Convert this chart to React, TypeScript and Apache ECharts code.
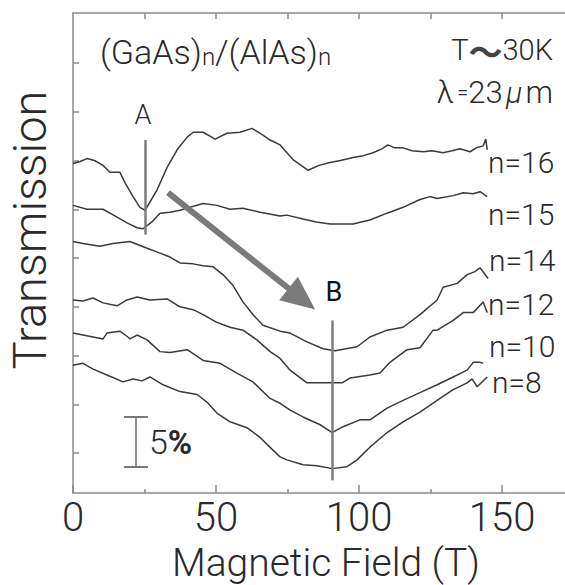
import React, { useEffect, useRef } from 'react';
import * as echarts from 'echarts';

const xTickValues = [0, 50, 100, 150];
const xMinorTickValues = [25, 75, 125];
const xTopTickValues = [25, 50, 75, 100, 125, 150];
const yTickValues = [4.1, 9.1, 14.1, 19.1, 24.1, 29.1, 34.1, 39.1, 44.1];
const seriesNames = ['n=16', 'n=15', 'n=14', 'n=12', 'n=10', 'n=8'];

const n16 = [[0,33.8],[2.5,34.0],[4.9,34.3],[7.5,34.1],[10.5,33.6],[12.9,32.9],[16.4,32.9],[18.2,31.8],[21.0,30.4],[23.4,29.3],[25.2,29.0],[29.4,31.1],[32.9,33.4],[36.4,35.2],[39.9,36.5],[42.0,37.0],[45.5,37.0],[49.7,36.3],[53.8,36.9],[58.4,37.0],[62.6,37.4],[66.4,36.7],[68.9,36.2],[72.4,35.7],[76.9,34.2],[82.2,33.1],[86.0,33.6],[89.9,33.9],[93.5,34.1],[97.9,34.4],[101.5,34.6],[104.9,34.9],[108.0,35.3],[110.1,35.7],[112.5,35.4],[115.4,35.4],[118.5,35.1],[122.4,35.0],[125.5,35.1],[129.4,34.9],[132.5,35.1],[135.3,35.3],[138.8,35.0],[141.0,35.4],[143.4,35.6],[144.3,36.3],[144.8,35.2]];
const n15 = [[0,29.5],[4.9,29.1],[10.5,29.1],[15.4,28.3],[18.9,27.7],[22.4,27.2],[24.5,27.1],[27.6,27.8],[30.4,28.7],[33.9,28.8],[37.4,29.0],[40.9,29.3],[45.5,29.7],[50.3,29.5],[54.9,29.1],[59.4,29.2],[65.4,28.8],[72.4,28.4],[74.8,28.5],[80.4,28.1],[85.0,27.8],[89.9,27.6],[97.9,27.6],[103.8,28.0],[109.8,28.7],[115.4,29.3],[121.3,30.1],[124.8,30.4],[127.3,30.2],[132.9,30.5],[136.4,30.8],[139.9,30.7],[142.3,30.9],[144.8,30.4]];
const n14 = [[0,25.8],[3.5,25.6],[9.4,25.3],[14.0,25.6],[19.9,25.8],[25.9,25.1],[30.4,24.6],[33.9,24.2],[37.4,23.6],[42.0,23.5],[45.5,23.3],[49.0,23.2],[52.4,22.4],[55.9,21.3],[59.4,19.6],[62.9,18.3],[66.4,17.2],[72.4,16.6],[75.9,16.4],[81.8,15.5],[87.4,14.8],[91.6,14.6],[99.3,15.0],[103.8,16.0],[109.8,16.7],[115.4,17.0],[121.3,18.3],[127.3,19.8],[129.4,21.1],[134.3,21.5],[137.8,22.4],[140.5,22.7],[142.3,23.1],[145.1,22.0]];
const n12 = [[0,19.8],[3.5,19.7],[7.0,20.0],[10.5,19.5],[15.4,19.2],[18.9,19.8],[22.4,20.1],[26.9,19.8],[32.9,19.9],[37.4,19.1],[42.0,18.8],[45.5,18.3],[50.3,17.5],[54.9,17.0],[59.4,16.7],[64.3,15.7],[68.9,14.5],[72.4,13.8],[75.9,12.6],[81.8,11.3],[89.9,11.3],[94.1,11.3],[96.9,11.8],[103.8,12.1],[107.3,12.3],[110.8,13.4],[116.8,14.7],[121.3,14.9],[125.9,16.7],[127.3,16.7],[132.9,17.7],[136.4,18.5],[139.9,18.5],[143.4,19.6],[144.8,18.5]];
const n10 = [[0,16.4],[3.5,16.2],[7.0,16.0],[10.5,15.8],[11.9,16.4],[16.4,16.6],[19.2,16.0],[19.9,15.8],[22.4,16.2],[25.9,15.7],[30.4,14.5],[33.9,14.4],[39.9,14.7],[45.5,13.6],[51.4,13.3],[57.3,12.3],[62.9,11.4],[68.9,9.7],[72.4,9.2],[75.9,8.5],[80.4,7.8],[86.4,7.0],[90.6,6.2],[94.4,6.8],[100.3,7.5],[103.8,7.5],[109.8,8.7],[115.4,9.5],[121.3,10.3],[127.3,11.1],[132.9,11.9],[137.8,12.6],[139.9,13.4],[142.3,13.4],[143.4,13.3]];
const n8 = [[0,13.1],[3.5,13.3],[7.0,12.7],[11.9,12.1],[17.5,11.4],[21.0,11.7],[24.1,11.5],[26.9,11.9],[31.5,11.1],[37.4,10.4],[43.4,10.1],[46.9,9.3],[50.3,8.2],[54.9,7.3],[60.8,6.7],[65.4,5.7],[69.9,4.4],[72.4,3.7],[74.8,3.4],[80.4,2.9],[85.3,2.8],[90.6,2.5],[95.8,2.7],[99.3,3.4],[103.8,4.7],[109.8,6.2],[115.4,7.3],[121.3,8.3],[127.3,9.5],[132.9,10.6],[137.8,11.3],[139.5,11.7],[141.3,10.9],[144.8,11.9]];

const markerA = [25.2, 36.2, 26.5];
const markerB = [90.6, 17.7, 1.3];
const arrowFrom = [33.2, 30.8];
const arrowTo = [80.0, 19.9];
const scaleBar = [21.9, 2.7, 7.8, 17.8, 26.2];

export default function App() {
  const ref = useRef<HTMLDivElement>(null);
  useEffect(() => {
    const chart = echarts.init(ref.current!, null, { renderer: 'svg' });
    const font = 'Roboto, "Liberation Sans", sans-serif';
    const axisColor = '#8a8a8a';
    const textColor = '#2a2a2a';
    const curves = [n16, n15, n14, n12, n10, n8];
    const series: any[] = curves.map((d, i) => ({
      type: 'line',
      name: seriesNames[i],
      data: d,
      showSymbol: false,
      symbol: 'none',
      silent: true,
      lineStyle: { color: '#3a3a3a', width: 1.5 },
      z: 3,
    }));
    series.push({
      type: 'line',
      data: [],
      symbol: 'none',
      silent: true,
      markLine: {
        silent: true,
        symbol: ['none', 'none'],
        label: { show: false },
        emphasis: { disabled: true },
        lineStyle: { color: '#7d7d7d', width: 2.5, type: 'solid' },
        data: [
          [{ coord: [markerA[0], markerA[1]] }, { coord: [markerA[0], markerA[2]] }],
          [{ coord: [markerB[0], markerB[1]] }, { coord: [markerB[0], markerB[2]] }],
        ],
      },
    });
    series.push({
      type: 'line',
      data: [],
      symbol: 'none',
      silent: true,
      markLine: {
        silent: true,
        symbol: ['none', 'none'],
        label: { show: false },
        emphasis: { disabled: true },
        lineStyle: { color: '#8f8f8f', width: 2, type: 'solid' },
        data: [
          [{ coord: [scaleBar[0], scaleBar[1]] }, { coord: [scaleBar[0], scaleBar[2]] }],
          [{ coord: [scaleBar[3], scaleBar[1]], lineStyle: { color: '#777' } }, { coord: [scaleBar[4], scaleBar[1]] }],
          [{ coord: [scaleBar[3], scaleBar[2]], lineStyle: { color: '#777' } }, { coord: [scaleBar[4], scaleBar[2]] }],
        ],
      },
    });
    series.push({
      type: 'line',
      data: [],
      symbol: 'none',
      silent: true,
      markLine: {
        silent: true,
        symbol: ['none', 'triangle'],
        symbolSize: [30, 34],
        label: { show: false },
        emphasis: { disabled: true },
        lineStyle: { color: '#7a7a7a', width: 6, type: 'solid' },
        itemStyle: { color: '#7a7a7a' },
        data: [[{ coord: arrowFrom }, { coord: arrowTo }]],
      },
    });

    const seriesLabelPos = [
      [488, 162], [488, 214], [489, 260], [488, 304], [489, 346], [492, 382],
    ];

    const graphic: any[] = [
      {
        type: 'text', x: 29, y: 230, rotation: Math.PI / 2,
        style: { text: 'Transmission', fontFamily: font, fontWeight: 300, fontSize: 47, fill: textColor, textAlign: 'center', textVerticalAlign: 'middle' },
      },
      {
        type: 'text', x: 326, y: 563,
        style: { text: 'Magnetic Field (T)', fontFamily: font, fontWeight: 300, fontSize: 39, fill: textColor, textAlign: 'center', textVerticalAlign: 'middle' },
      },
      {
        type: 'text', x: 100, y: 50,
        style: {
          text: '{a|(GaAs)}{s|n}{a|/(AlAs)}{s|n}',
          textAlign: 'left', textVerticalAlign: 'middle',
          rich: {
            a: { fontFamily: font, fontWeight: 300, fontSize: 34, fill: textColor, lineHeight: 38, verticalAlign: 'bottom' },
            s: { fontFamily: font, fontWeight: 300, fontSize: 24, fill: textColor, lineHeight: 28, verticalAlign: 'bottom' },
          },
        },
      },
      {
        type: 'text', x: 553, y: 50,
        style: {
          text: '{a|T}{t|～}{a|30K}',
          textAlign: 'right', textVerticalAlign: 'middle',
          rich: {
            a: { fontFamily: font, fontWeight: 300, fontSize: 29, fill: textColor, lineHeight: 32 },
            t: { fontFamily: '"Noto Sans CJK JP", sans-serif', fontWeight: 'bold', fontSize: 34, fill: '#444', lineHeight: 32 },
          },
        },
      },
      {
        type: 'text', x: 553, y: 92,
        style: {
          text: '{l|λ} {e|=}{a|23} {u|μ} {a|m}',
          textAlign: 'right', textVerticalAlign: 'middle',
          rich: {
            l: { fontFamily: font, fontWeight: 300, fontSize: 31, fill: textColor, lineHeight: 34 },
            e: { fontFamily: font, fontWeight: 300, fontSize: 20, fill: textColor, lineHeight: 34 },
            a: { fontFamily: font, fontWeight: 300, fontSize: 31, fill: textColor, lineHeight: 34 },
            u: { fontFamily: font, fontWeight: 300, fontStyle: 'italic', fontSize: 30, fill: textColor, lineHeight: 34 },
          },
        },
      },
      {
        type: 'text', x: 143, y: 115,
        style: { text: 'A', fontFamily: font, fontWeight: 300, fontSize: 27, fill: textColor, textAlign: 'center', textVerticalAlign: 'middle' },
      },
      {
        type: 'text', x: 334, y: 292,
        style: { text: 'B', fontFamily: font, fontSize: 27, fill: '#111', textAlign: 'center', textVerticalAlign: 'middle' },
      },
      {
        type: 'text', x: 149, y: 442,
        style: {
          text: '{a|5}{b|%}',
          textAlign: 'left', textVerticalAlign: 'middle',
          rich: {
            a: { fontFamily: font, fontWeight: 300, fontSize: 34, fill: textColor, lineHeight: 36 },
            b: { fontFamily: font, fontWeight: 'bold', fontSize: 33, fill: textColor, lineHeight: 36 },
          },
        },
      },
      ...seriesNames.map((name, i) => ({
        type: 'text', x: seriesLabelPos[i][0], y: seriesLabelPos[i][1],
        style: { text: name, fontFamily: font, fontWeight: 300, fontSize: 30, fill: textColor, textAlign: 'left', textVerticalAlign: 'middle' },
      })),
    ];

    const axisLine = { show: true, lineStyle: { color: axisColor, width: 1.5 } };
    const option: any = {
      animation: false,
      grid: { left: 73, top: 13, right: 0, bottom: 92, containLabel: false },
      xAxis: [
        {
          type: 'value', position: 'bottom', min: 0, max: 172,
          axisLine,
          axisTick: { show: true, inside: true, length: 8, customValues: xTickValues, lineStyle: { color: axisColor, width: 1.5 } },
          axisLabel: { show: true, customValues: xTickValues, fontFamily: font, fontWeight: 300, fontSize: 40, lineHeight: 40, color: textColor, margin: 4 },
          splitLine: { show: false },
        },
        {
          type: 'value', position: 'bottom', min: 0, max: 172,
          axisLine: { show: false },
          axisTick: { show: true, inside: true, length: 4, customValues: xMinorTickValues, lineStyle: { color: axisColor, width: 1.5 } },
          axisLabel: { show: false },
          splitLine: { show: false },
        },
        {
          type: 'value', position: 'top', min: 0, max: 172,
          axisLine,
          axisTick: { show: true, inside: true, length: 6, customValues: xTopTickValues, lineStyle: { color: axisColor, width: 1.5 } },
          axisLabel: { show: false },
          splitLine: { show: false },
        },
      ],
      yAxis: {
        type: 'value', min: 0, max: 49.23,
        axisLine,
        axisTick: { show: true, inside: true, length: 6, customValues: yTickValues, lineStyle: { color: axisColor, width: 1.5 } },
        axisLabel: { show: false },
        splitLine: { show: false },
      },
      series,
      graphic,
    };
    chart.setOption(option);
    return () => chart.dispose();
  }, []);
  return <div ref={ref} style={{ position: 'fixed', left: 0, top: 0, width: 565, height: 585, background: '#fff' }} />;
}
